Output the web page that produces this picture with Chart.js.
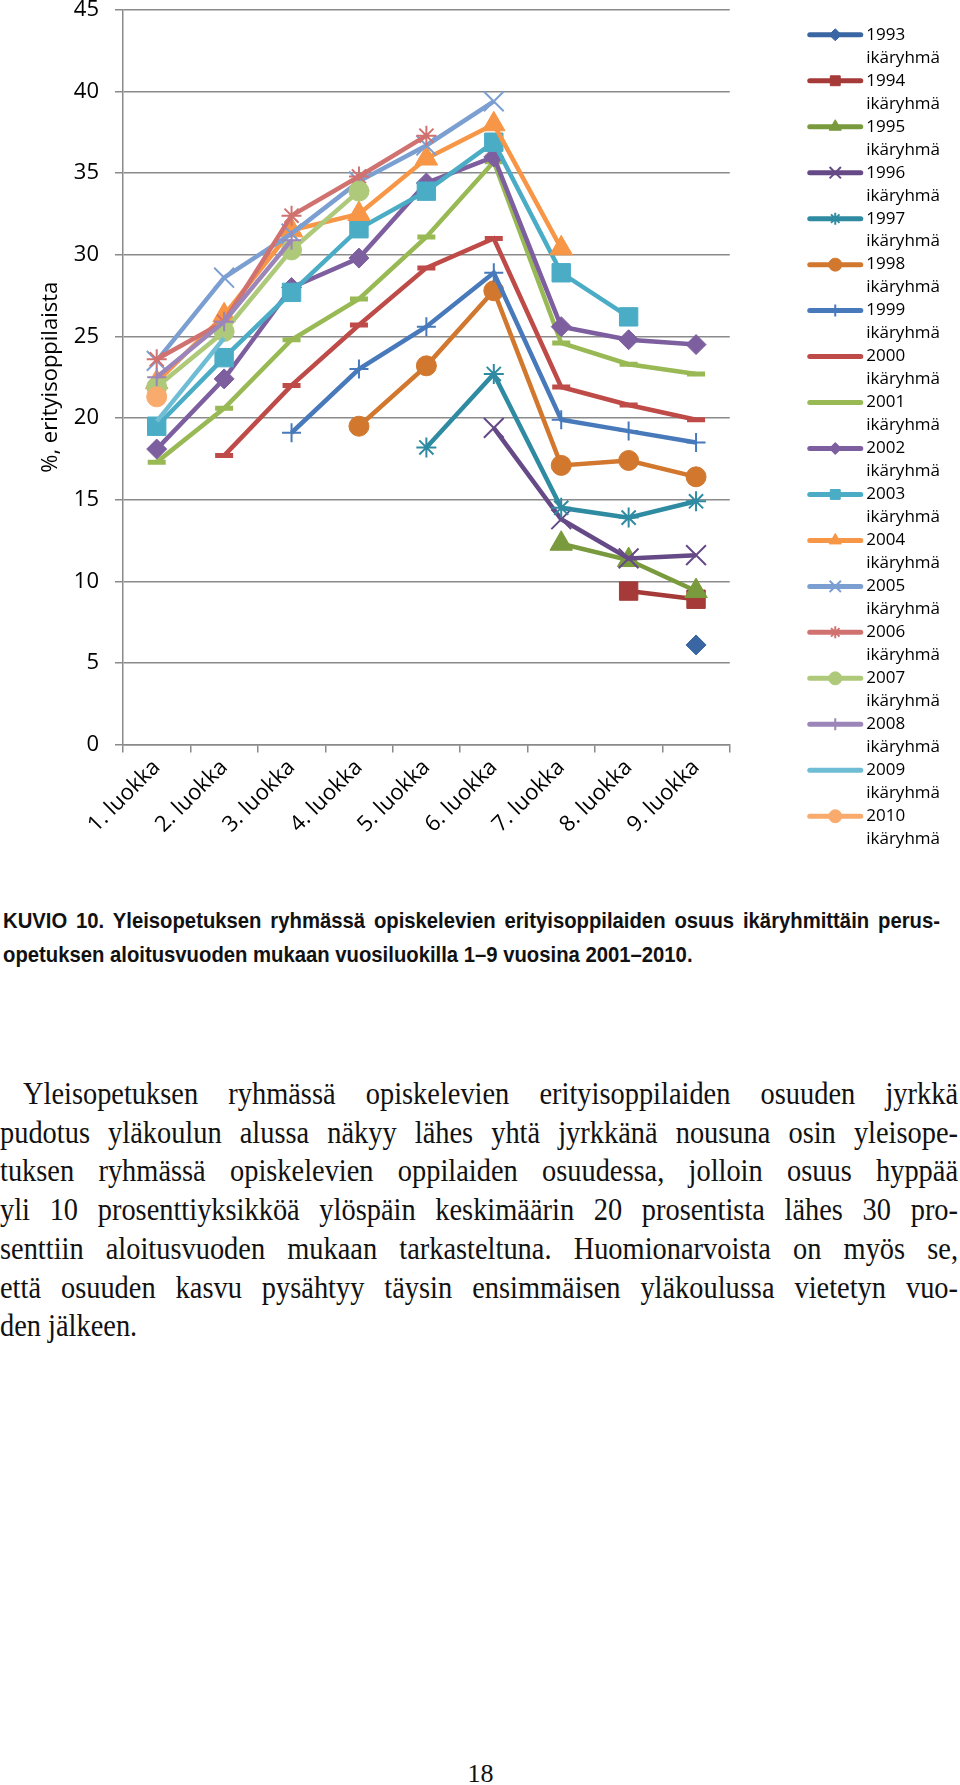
<!DOCTYPE html>
<html lang="fi">
<head>
<meta charset="utf-8">
<title>KUVIO 10</title>
<script src="https://cdn.jsdelivr.net/npm/chart.js@4.4.1/dist/chart.umd.min.js"></script>
<style>
  html, body { margin: 0; padding: 0; background: #fff; }
  body { width: 960px; height: 1785px; position: relative; overflow: hidden; }
  #chart { position: absolute; left: 0; top: 0; }
  .para { position: absolute; left: 0; transform-origin: 0 0; color: #111; }
  .para .ln { display: block; }
  .para .ln.just { text-align: justify; text-align-last: justify; }
  #caption { top: 904px; font: bold 22px "Liberation Sans", Arial, sans-serif; line-height: 34px; }
  #bodytext { top: 1074px; font: 32px "Liberation Serif", "Times New Roman", serif; line-height: 38.73px; }
  #pageno { position: absolute; left: 0; width: 961px; top: 1759px; text-align: center;
            font: 26px "Liberation Serif", "Times New Roman", serif; line-height: 30px; color: #111; }
</style>
</head>
<body>
<canvas id="chart" width="960" height="870"></canvas>

<div id="caption" class="para">
  <div class="ln just">KUVIO 10. Yleisopetuksen ryhmässä opiskelevien erityisoppilaiden osuus ikäryhmittäin perus-</div>
  <div class="ln">opetuksen aloitusvuoden mukaan vuosiluokilla 1–9 vuosina 2001–2010.</div>
</div>

<div id="bodytext" class="para">
  <div class="ln just">Yleisopetuksen ryhmässä opiskelevien erityisoppilaiden osuuden jyrkkä</div>
  <div class="ln just">pudotus yläkoulun alussa näkyy lähes yhtä jyrkkänä nousuna osin yleisope-</div>
  <div class="ln just">tuksen ryhmässä opiskelevien oppilaiden osuudessa, jolloin osuus hyppää</div>
  <div class="ln just">yli 10 prosenttiyksikköä ylöspäin keskimäärin 20 prosentista lähes 30 pro-</div>
  <div class="ln just">senttiin aloitusvuoden mukaan tarkasteltuna. Huomionarvoista on myös se,</div>
  <div class="ln just">että osuuden kasvu pysähtyy täysin ensimmäisen yläkoulussa vietetyn vuo-</div>
  <div class="ln">den jälkeen.</div>
</div>

<div id="pageno">18</div>

<script>
// grades on the x axis
const categories = ['1. luokka', '2. luokka', '3. luokka', '4. luokka', '5. luokka',
                    '6. luokka', '7. luokka', '8. luokka', '9. luokka'];

// one series per starting year (cohort), values in % per grade
const cohorts = ['1993', '1994', '1995', '1996', '1997', '1998', '1999', '2000', '2001',
                 '2002', '2003', '2004', '2005', '2006', '2007', '2008', '2009', '2010'];

const v1993 = [null, null, null, null, null, null, null, null, 6.1];
const v1994 = [null, null, null, null, null, null, null, 9.4, 8.9];
const v1995 = [null, null, null, null, null, null, 12.3, 11.3, 9.4];
const v1996 = [null, null, null, null, null, 19.4, 13.8, 11.4, 11.6];
const v1997 = [null, null, null, null, 18.2, 22.7, 14.5, 13.9, 14.9];
const v1998 = [null, null, null, 19.5, 23.2, 27.8, 17.1, 17.4, 16.4];
const v1999 = [null, null, 19.1, 23.0, 25.6, 28.9, 19.9, 19.2, 18.5];
const v2000 = [null, 17.7, 22.0, 25.7, 29.2, 31.0, 21.9, 20.8, 19.9];
const v2001 = [17.3, 20.6, 24.8, 27.3, 31.1, 35.7, 24.6, 23.3, 22.7];
const v2002 = [18.1, 22.4, 28.0, 29.8, 34.4, 36.0, 25.6, 24.8, 24.5];
const v2003 = [19.5, 23.7, 27.7, 31.6, 33.9, 36.9, 28.9, 26.2, null];
const v2004 = [22.2, 26.3, 31.5, 32.5, 35.9, 38.0, 30.4, null, null];
const v2005 = [23.5, 28.6, 31.3, 34.5, 36.7, 39.4, null, null, null];
const v2006 = [23.6, 25.9, 32.4, 34.8, 37.3, null, null, null, null];
const v2007 = [21.9, 25.3, 30.3, 33.9, null, null, null, null, null];
const v2008 = [22.5, 25.9, 30.9, null, null, null, null, null, null];
const v2009 = [19.8, 24.9, null, null, null, null, null, null, null];
const v2010 = [21.3, null, null, null, null, null, null, null, null];

const yTicks = { min: 0, max: 45, step: 5 };

const seriesValues = [v1993, v1994, v1995, v1996, v1997, v1998, v1999, v2000, v2001,
                      v2002, v2003, v2004, v2005, v2006, v2007, v2008, v2009, v2010];

// styling
const colors = ['#3a67a3', '#a53a38', '#7a9a3e', '#664a87', '#2f8ba1', '#d2772e',
                '#4779bb', '#be4b48', '#98b954', '#7d5fa0', '#4bacc6', '#f79646',
                '#7c9fd2', '#d07270', '#afc97a', '#9c85b8', '#6fbdd4', '#f9ab6e'];
const markers = ['rectRot', 'rect', 'triangle', 'crossRot', 'star', 'circle', 'cross', 'line', 'line',
                 'rectRot', 'rect', 'triangle', 'crossRot', 'star', 'circle', 'cross', null, 'circle'];
const plotRadius = { rectRot: 10, rect: 13, triangle: 13, crossRot: 14, star: 10, circle: 10, cross: 9.5, line: 9 };
const legendRadius = { rectRot: 6, rect: 7, triangle: 7, crossRot: 8, star: 6, circle: 6.5, cross: 6 };
const markerBorder = { crossRot: 2, star: 2, cross: 2, line: 5 };

const GRID = '#8a8a8a';
const LEGEND_FONT = 17;
const LEGEND_BOX = 50;
const LEGEND_LINE = 55;

Chart.defaults.font.family = '"Open Sans", "DejaVu Sans", sans-serif';
Chart.defaults.color = '#000';

// legend sample: a short thick line with the series marker in its middle
const legendMarkers = {
  id: 'legendMarkers',
  afterDraw(chart) {
    const lg = chart.legend;
    if (!lg || !lg.legendHitBoxes) return;
    const drawPoint = Chart.helpers && Chart.helpers.drawPoint;
    const ctx = chart.ctx;
    lg.legendHitBoxes.forEach((hb, i) => {
      const cy = hb.top + LEGEND_FONT / 2;
      ctx.save();
      ctx.strokeStyle = colors[i];
      ctx.fillStyle = colors[i];
      ctx.lineWidth = 5;
      ctx.lineCap = 'round';
      ctx.beginPath();
      ctx.moveTo(hb.left + 2, cy);
      ctx.lineTo(hb.left + LEGEND_LINE - 2, cy);
      ctx.stroke();
      const style = markers[i];
      if (style && legendRadius[style] && drawPoint) {
        ctx.lineCap = 'butt';
        ctx.lineWidth = markerBorder[style] || 1;
        drawPoint(ctx, { pointStyle: style, radius: legendRadius[style], rotation: 0, borderWidth: ctx.lineWidth },
          hb.left + LEGEND_LINE / 2, cy);
      }
      ctx.restore();
    });
  }
};

const datasets = cohorts.map((year, i) => {
  const style = markers[i];
  return {
    label: year + ' ikäryhmä',
    data: seriesValues[i],
    borderColor: colors[i],
    backgroundColor: colors[i],
    borderWidth: 4.5,
    pointStyle: style || 'circle',
    pointRadius: style ? plotRadius[style] : 0,
    pointHoverRadius: style ? plotRadius[style] : 0,
    pointBorderWidth: style ? (markerBorder[style] || 1) : 0,
    pointBackgroundColor: colors[i],
    pointBorderColor: colors[i],
    tension: 0,
    fill: false,
    order: cohorts.length - i
  };
});

new Chart(document.getElementById('chart'), {
  type: 'line',
  data: { labels: categories, datasets },
  plugins: [legendMarkers],
  options: {
    responsive: false,
    animation: false,
    devicePixelRatio: 1,
    layout: { autoPadding: false, padding: { top: 10, right: 10, left: 0, bottom: 0 } },
    plugins: {
      tooltip: { enabled: false },
      legend: {
        position: 'right',
        align: 'center',
        labels: {
          boxWidth: LEGEND_BOX,
          boxHeight: 5,
          padding: 0,
          color: '#000',
          font: { size: LEGEND_FONT, lineHeight: 1.352 },
          generateLabels: () => cohorts.map((year, i) => ({
            text: [year, 'ikäryhmä'],
            fillStyle: 'rgba(0,0,0,0)',
            strokeStyle: 'rgba(0,0,0,0)',
            lineWidth: 0,
            hidden: false,
            datasetIndex: i
          }))
        }
      }
    },
    scales: {
      x: {
        offset: true,
        grid: { offset: true, drawOnChartArea: false, color: GRID, lineWidth: 1.5, tickLength: 8 },
        border: { color: GRID, width: 1.5 },
        ticks: { minRotation: 45, maxRotation: 45, autoSkip: false, color: '#000', font: { size: 22 }, padding: 2 },
        afterFit(scale) { scale.height = 125.5; scale.paddingLeft = 0; scale.paddingRight = 0; }
      },
      y: {
        min: yTicks.min,
        max: yTicks.max,
        ticks: { stepSize: yTicks.step, padding: 16, color: '#000', font: { size: 22 } },
        grid: { color: GRID, lineWidth: 1.5, tickLength: 8 },
        border: { color: GRID, width: 1.5 },
        title: { display: true, text: '%, erityisoppilaista', color: '#000', font: { size: 22 }, padding: { top: 38, bottom: 0 } },
        afterFit(scale) { scale.width = 123; scale.paddingTop = 0; scale.paddingBottom = 0; }
      },
      gap: {
        type: 'linear',
        position: 'right',
        display: true,
        grid: { display: false, drawTicks: false },
        border: { display: false },
        ticks: { display: false },
        afterFit(scale) { scale.width = 78; scale.paddingTop = 0; scale.paddingBottom = 0; }
      }
    }
  }
});

// squeeze text blocks the way the printed page does, then justify
function fitBlock(id, font, targets, offsets, calib) {
  const box = document.getElementById(id);
  const lines = Array.from(box.children);
  const m = document.createElement('canvas').getContext('2d');
  m.font = font;
  let s = Infinity;
  lines.forEach((ln, i) => {
    if (!ln.classList.contains('just')) return;
    s = Math.min(s, targets[i] / m.measureText(ln.textContent.trim()).width);
  });
  if (calib) s = Math.min(s, calib.width / m.measureText(calib.word).width);
  s *= 0.995;
  box.style.transform = `scaleX(${s})`;
  lines.forEach((ln, i) => {
    ln.style.width = (targets[i] / s) + 'px';
    ln.style.marginLeft = (offsets[i] / s) + 'px';
  });
}

fitBlock('caption', 'bold 22px "Liberation Sans"', [937, 937], [3, 3],
  { word: 'opetuksen aloitusvuoden mukaan vuosiluokilla 1–9 vuosina 2001–2010.', width: 693 });
fitBlock('bodytext', '32px "Liberation Serif"', [935, 958, 958, 958, 958, 958, 958], [23, 0, 0, 0, 0, 0, 0],
  { word: 'Yleisopetuksen', width: 176 });
</script>
</body>
</html>
